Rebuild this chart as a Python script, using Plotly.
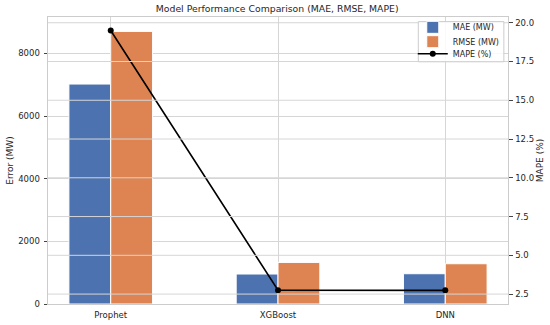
import plotly.graph_objects as go

models = ["Prophet", "XGBoost", "DNN"]
mae = [7020, 957, 966]
rmse = [8700, 1327, 1285]
mape = [19.5, 2.75, 2.74]
left_ticks = [0, 2000, 4000, 6000, 8000]
right_ticks = [2.5, 5.0, 7.5, 10.0, 12.5, 15.0, 17.5, 20.0]

BLUE = "#4C72B0"
ORANGE = "#DD8452"
GRID = "#d6d6d6"
TXT = "#262626"
FONT = "DejaVu Sans"

fig = go.Figure()
fig.add_trace(go.Bar(x=models, y=mae, name="MAE (MW)", legend="legend",
                     marker=dict(color=BLUE, line=dict(color="white", width=1))))
fig.add_trace(go.Bar(x=models, y=rmse, name="RMSE (MW)", legend="legend2",
                     marker=dict(color=ORANGE, line=dict(color="white", width=1))))
fig.add_trace(go.Scatter(x=models, y=mape, name="MAPE (%)", yaxis="y2", mode="lines+markers", legend="legend3",
                         line=dict(color="black", width=1.6), marker=dict(color="black", size=6)))

shapes = []
for t in right_ticks:
    shapes.append(dict(type="line", xref="paper", x0=0, x1=1, yref="y2", y0=t, y1=t,
                       line=dict(color=GRID, width=1), layer="above"))
# legend frame
shapes.append(dict(type="rect", xref="paper", yref="paper", x0=0.805, x1=0.991, y0=0.844, y1=0.984,
                   fillcolor="rgba(255,255,255,0.85)", line=dict(color="#cccccc", width=1), layer="above"))

def leg(y):
    return dict(x=0.793, y=y, xanchor="left", yanchor="middle", bgcolor="rgba(0,0,0,0)",
                borderwidth=0, font=dict(size=8, color=TXT), itemwidth=30)

fig.update_layout(
    width=550, height=325,
    margin=dict(l=48, r=42, t=17, b=21),
    paper_bgcolor="white", plot_bgcolor="white",
    font=dict(family=FONT, size=8, color=TXT),
    title=dict(text="Model Performance Comparison (MAE, RMSE, MAPE)", x=0.504, xanchor="center",
               y=0.972, yanchor="middle", font=dict(size=9.3, color=TXT)),
    barmode="group", bargap=0.5, bargroupgap=0,
    showlegend=True,
    legend=leg(0.964), legend2=leg(0.914), legend3=leg(0.872),
    xaxis=dict(range=[-0.375, 2.375], showgrid=True, gridcolor=GRID, gridwidth=1, automargin=False,
               showline=True, linecolor="#cccccc", mirror=True, ticks="", ticklabelstandoff=3,
               tickfont=dict(size=8.5, color=TXT)),
    yaxis=dict(title=dict(text="Error (MW)", font=dict(size=9, color=TXT), standoff=3), automargin=False,
               range=[0, 9160], tickvals=left_ticks, showgrid=True, gridcolor=GRID, gridwidth=1,
               zeroline=False, showline=True, linecolor="#cccccc", mirror=True, ticklabelstandoff=2,
               ticks="outside", ticklen=3.5, tickcolor="#444", tickfont=dict(size=8.5, color=TXT)),
    yaxis2=dict(title=dict(text="MAPE (%)", font=dict(size=9, color=TXT), standoff=3), automargin=False,
                overlaying="y", side="right", range=[1.86, 20.37], tickvals=right_ticks,
                tickformat=".1f", showgrid=False, zeroline=False, ticklabelstandoff=1,
                ticks="outside", ticklen=3.5, tickcolor="#444", tickfont=dict(size=8.5, color=TXT)),
    shapes=shapes,
)

fig.write_html("out.html", config={"displayModeBar": False},
               post_script="document.body.style.margin='0';document.body.style.overflow='hidden';")
